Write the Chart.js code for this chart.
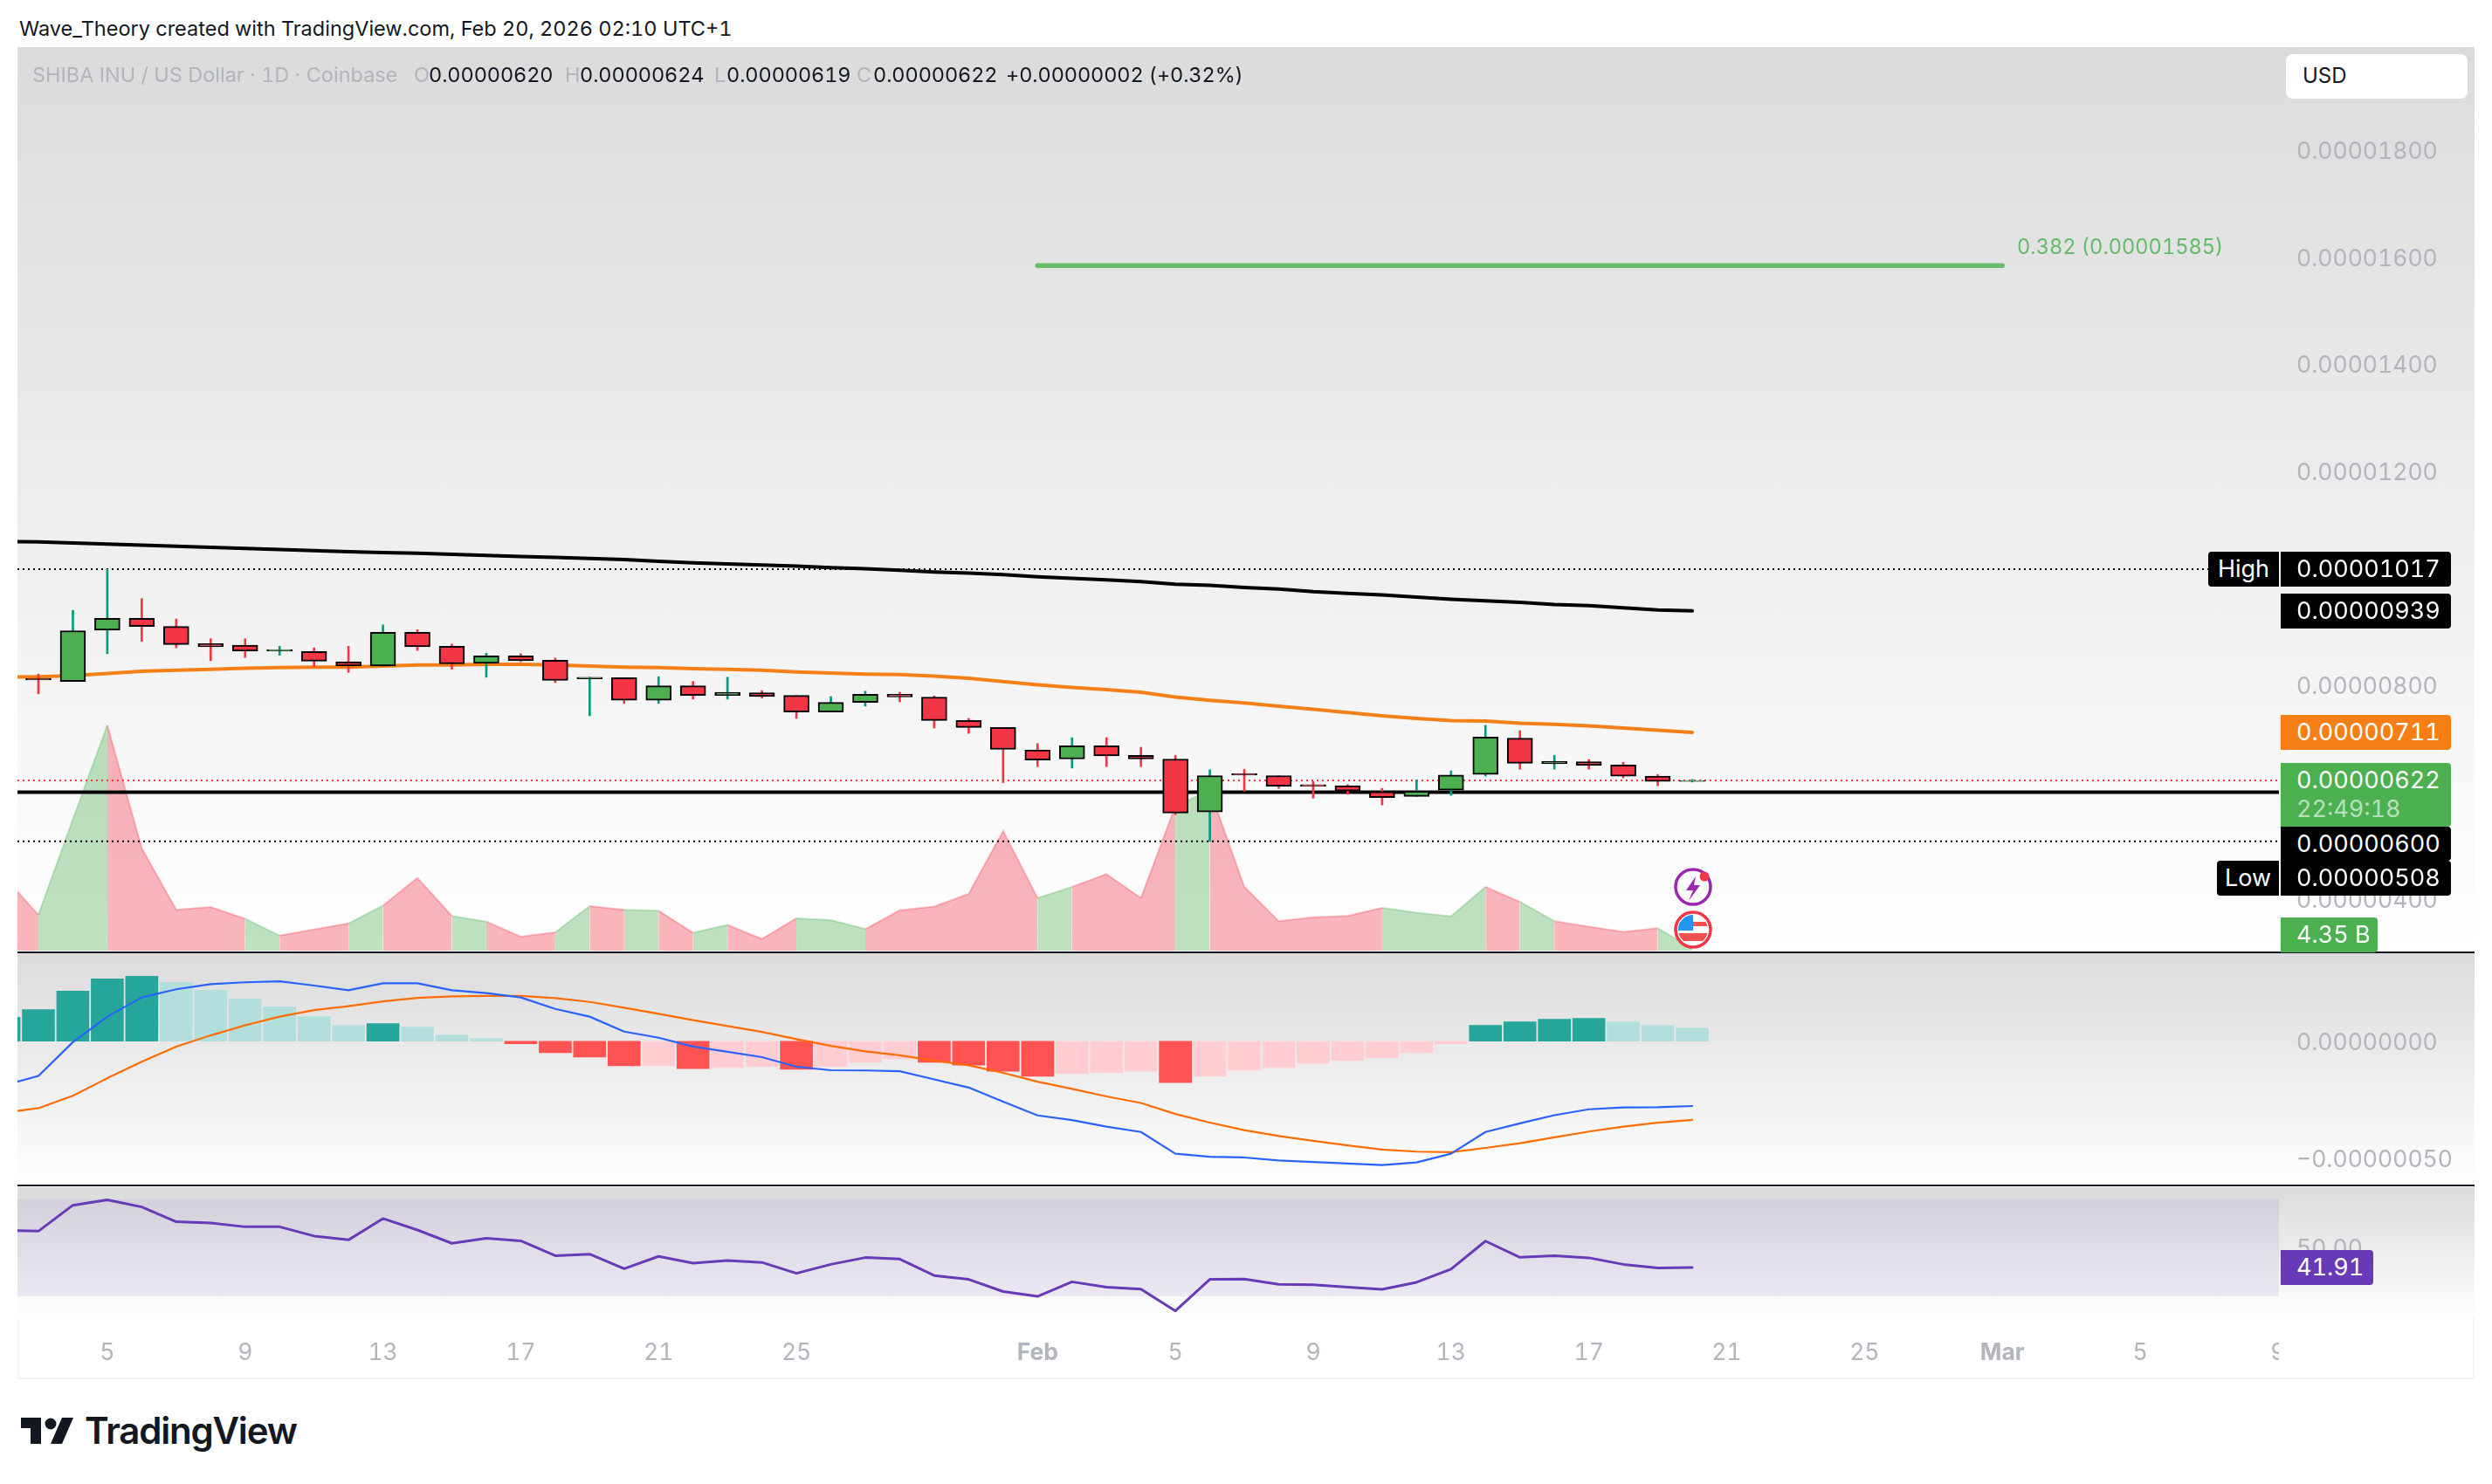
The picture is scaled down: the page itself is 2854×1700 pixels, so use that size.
<!DOCTYPE html>
<html lang="en">
<head>
  <meta charset="UTF-8">
  <title>SHIBA INU / US Dollar</title>
  <script src="https://cdn.jsdelivr.net/npm/chart.js"></script>
  <style>
    html, body { margin: 0; padding: 0; background: #fff; }
    body { position: relative; width: 2854px; height: 1700px; overflow: hidden; font-family: Inter, 'Noto Sans', sans-serif; font-feature-settings: 'tnum' 1; color: #131722; }
    .abs { position: absolute; white-space: nowrap; }
    canvas { position: absolute; }
    .pane { position: absolute; left: 20px; width: 2814px; background: linear-gradient(#dbdbdb, #fff); }
    .sep { position: absolute; left: 20px; width: 2814px; height: 2px; background: #131722; }
    .head { font-size: 23.5px; line-height: 30px; top: 71px; letter-spacing: -0.1px; }
    .pale { color: #b2b5be; letter-spacing: 0; }
    .tag { position: absolute; left: 2612px; width: 195px; height: 40px; line-height: 40px; padding-left: 18px; box-sizing: border-box; color: #fff; background: #000; font-size: 27px; border-radius: 0 4px 4px 0; white-space: nowrap; }
    .side { position: absolute; height: 40px; line-height: 40px; color: #fff; background: #000; font-size: 27px; border-radius: 4px 0 0 4px; text-align: center; }
  </style>
</head>
<body>
  <div class="abs" style="left:22px;top:18px;font-size:23.5px;line-height:30px;">Wave_Theory created with TradingView.com, Feb 20, 2026 02:10 UTC+1</div>

  <div class="pane" style="top:54px;height:1037px;"></div>
  <div class="pane" style="top:1092px;height:266px;"></div>
  <div class="pane" style="top:1360px;height:150px;"></div>
  <div class="abs" style="left:20px;top:1578px;width:2814px;height:2px;background:#f2f2f2;"></div>
  <div class="abs" style="left:20px;top:1510px;width:2px;height:70px;background:#f5f5f5;"></div>
  <div class="abs" style="left:2832px;top:1510px;width:2px;height:70px;background:#f5f5f5;"></div>

  <canvas id="priceChart" width="2814" height="1037" style="left:20px;top:54px;"></canvas>
  <canvas id="macdChart" width="2814" height="266" style="left:20px;top:1092px;"></canvas>
  <canvas id="rsiChart" width="2814" height="220" style="left:20px;top:1360px;"></canvas>

  <div class="sep" style="top:1090px;"></div>
  <div class="sep" style="top:1357px;"></div>
  <!-- the last time label is cut by the price scale -->
  <div class="abs" style="left:2610px;top:1525px;width:30px;height:45px;background:#fff;"></div>

  <div class="abs head pale" style="left:37px;">SHIBA INU / US Dollar · 1D · Coinbase</div>
  <div class="abs head pale" style="left:474px;">O</div>
  <div class="abs head" style="left:491px;">0.00000620</div>
  <div class="abs head pale" style="left:647px;">H</div>
  <div class="abs head" style="left:664px;">0.00000624</div>
  <div class="abs head pale" style="left:818px;">L</div>
  <div class="abs head" style="left:832px;">0.00000619</div>
  <div class="abs head pale" style="left:981px;">C</div>
  <div class="abs head" style="left:1000px;">0.00000622</div>
  <div class="abs head" style="left:1152px;">+0.00000002 (+0.32%)</div>

  <div class="abs" style="left:2618px;top:62px;width:208px;height:51px;background:#fff;border-radius:8px;line-height:50px;font-size:24px;"><span style="margin-left:19px;">USD</span></div>
  <div class="abs" style="left:2310px;top:268px;font-size:23.6px;line-height:30px;color:#66bb6a;">0.382 (0.00001585)</div>

  <div class="side" style="left:2529px;width:81px;top:632px;">High</div>
  <div class="tag" style="top:632px;">0.00001017</div>
  <div class="tag" style="top:680px;">0.00000939</div>
  <div class="tag" style="top:819px;background:#f57f17;">0.00000711</div>
  <div class="tag" style="top:874px;height:73px;background:#4caf50;line-height:33px;padding-top:3px;">0.00000622<br><span style="opacity:.6;">22:49:18</span></div>
  <div class="tag" style="top:947px;height:39px;">0.00000600</div>
  <div class="side" style="left:2539px;width:71px;top:986px;">Low</div>
  <div class="tag" style="top:986px;">0.00000508</div>
  <div class="tag" style="top:1051px;width:111px;background:#4caf50;">4.35 B</div>
  <div class="tag" style="top:1432px;width:106px;background:#673ab7;">41.91</div>

  <svg class="abs" style="left:1914px;top:990px;" width="52" height="100" viewBox="0 0 52 100">
    <circle cx="25" cy="26" r="20" fill="none" stroke="#9c27b0" stroke-width="3.5"/>
    <path d="M28 14 L17 30 L25 30 L20 42 L33 24 L26 24 Z" fill="#9c27b0"/>
    <circle cx="38" cy="14" r="5.5" fill="#f23645"/>
    <clipPath id="flagClip"><circle cx="25" cy="75" r="17"/></clipPath>
    <g clip-path="url(#flagClip)">
      <rect x="5" y="55" width="40" height="40" fill="#fff"/>
      <rect x="5" y="66" width="40" height="5" fill="#ef5350"/>
      <rect x="5" y="79" width="40" height="9" fill="#ef5350"/>
      <rect x="5" y="55" width="20" height="21" fill="#2196f3"/>
    </g>
    <circle cx="25" cy="75" r="20" fill="none" stroke="#f23645" stroke-width="3.5"/>
  </svg>

  <svg class="abs" style="left:24px;top:1624px;" width="60" height="30" viewBox="0 0 60 30">
    <path d="M0 0H23V30H11V12H0Z M47 0H60L47 30H34Z" fill="#131722"/>
    <circle cx="34" cy="7" r="6.5" fill="#131722"/>
  </svg>
  <div class="abs" style="left:97px;top:1609px;font-size:42px;line-height:60px;font-weight:600;letter-spacing:-1.2px;color:#131722;">TradingView</div>

  <script>
    // every day on the chart, the first one sits just left of the visible area
    const days = ["Jan 2","Jan 3","Jan 4","Jan 5","Jan 6","Jan 7","Jan 8","Jan 9","Jan 10","Jan 11","Jan 12","Jan 13","Jan 14","Jan 15","Jan 16","Jan 17","Jan 18","Jan 19","Jan 20","Jan 21","Jan 22","Jan 23","Jan 24","Jan 25","Jan 26","Jan 27","Jan 28","Jan 29","Jan 30","Jan 31","Feb 1","Feb 2","Feb 3","Feb 4","Feb 5","Feb 6","Feb 7","Feb 8","Feb 9","Feb 10","Feb 11","Feb 12","Feb 13","Feb 14","Feb 15","Feb 16","Feb 17","Feb 18","Feb 19","Feb 20"];

    // prices in units of 0.00000001
    const opens = [null,813,807,903,925,910,878,875,864,863,844,836,899,873,841,855,847,812,814,772,799,781,786,781,750,768,783,778,734,721,679,662,687,669,662,563,635,631,614,612,601,592,604,633,701,653,657,651,630,620];
    const highs = [null,821,940,1017,962,924,887,887,873,870,873,913,904,877,860,859,851,815,814,816,807,815,790,781,779,789,787,780,738,721,691,702,702,684,669,642,643,631,620,614,607,623,640,725,715,669,661,656,633,624];
    const lows = [null,784,807,859,882,870,846,852,856,835,824,836,865,830,815,844,805,743,766,766,774,774,776,738,750,761,769,720,710,618,648,645,648,648,558,508,602,607,589,596,576,592,594,630,643,643,643,627,612,619];
    const closes = [null,810,902,925,910,876,872,864,867,845,836,899,872,840,855,846,809,815,772,799,781,787,779,750,768,783,778,734,721,680,660,687,668,662,561,631,632,611,611,602,590,602,632,703,654,658,650,630,620,622];

    const longAverage = [1069,1068,1066,1064,1062,1060,1058,1056,1054,1052,1050,1048,1047,1045,1043,1041,1039,1037,1035,1032,1029,1027,1025,1023,1020,1018,1015,1012,1010,1007,1003,1000,997,994,989,987,983,980,975,972,969,965,961,958,955,951,949,945,941,939];
    const midAverage = [815,816,818,822,826,828,830,832,833,834,834,836,838,838,839,839,838,836,834,833,831,830,828,825,823,821,820,817,813,807,801,796,792,787,778,772,767,761,755,749,743,738,734,733,729,727,724,720,716,712];

    // volume in billions
    const volumes = [158,76,280,480,218,87,93,68,32,45,58,96,155,74,62,30,39,95,87,85,38,55,25,69,65,46,86,94,121,255,112,136,163,112,308,342,136,63,71,74,91,81,73,136,104,63,51,40,48,4.35];

    // MACD in units of 0.00000001
    const macdHist = [10.2,13.5,21.4,26.7,27.8,25.2,21.8,18.0,14.7,10.5,6.8,7.5,6.0,2.6,1.1,-1.1,-4.9,-6.8,-10.5,-10.5,-11.7,-11.3,-10.9,-12.0,-10.9,-9.0,-7.5,-9.0,-10.2,-12.8,-15.0,-13.9,-13.5,-12.8,-17.7,-15.0,-12.4,-11.3,-9.4,-8.3,-7.1,-4.9,-1.1,6.8,8.3,9.4,9.8,8.3,6.8,5.6];
    const macdLine = [-18.9,-14.8,-0.4,10.5,18.7,22.2,24.4,25.2,25.6,23.8,21.8,24.8,24.8,21.8,20.6,18.7,13.8,10.5,4.1,1.5,-2.3,-4.5,-6.8,-10.9,-12.4,-12.5,-12.8,-16.3,-19.8,-25.8,-31.7,-33.7,-36.5,-38.8,-48.1,-49.4,-49.7,-51.0,-51.6,-52.3,-52.9,-51.8,-48.1,-38.8,-35.1,-31.6,-29.1,-28.3,-28.2,-27.7];
    const signalLine = [-30.6,-28.6,-23.3,-15.8,-8.8,-2.3,2.5,6.8,10.5,13.3,15.0,17.0,18.5,19.2,19.4,19.4,18.4,16.8,14.3,11.7,9.0,6.5,4.0,0.9,-2.0,-4.3,-6.0,-8.3,-10.3,-13.5,-17.3,-20.4,-23.6,-26.4,-31.1,-34.8,-38.0,-40.5,-42.6,-44.5,-46.3,-47.2,-47.4,-45.6,-43.6,-41.1,-38.6,-36.5,-34.8,-33.6];

    const rsiValues = [57.3,56.9,67.6,69.8,66.9,60.8,60.3,58.7,58.7,54.9,53.3,62.1,57.4,51.9,54.0,52.9,46.8,47.4,41.4,46.5,43.7,44.8,44.0,39.5,43.2,46.0,45.4,38.6,37.0,32.0,30.0,36.0,33.8,33.0,24.0,37.0,37.1,35.0,34.8,33.8,32.9,35.8,41.2,52.8,46.1,46.8,45.9,43.2,41.7,41.91];

    // horizontal levels, prices in units of 0.00000001
    const highLevel = 1017;
    const lowLevel = 508;
    const supportLevel = 600;
    const lastPrice = 622;
    const fibPrice = 1585;
    const fibFrom = 30;
    const fibTo = 58;

    const priceTicks = [400,600,800,1000,1200,1400,1600,1800];
    const macdTicks = [0,-50];
    const rsiTicks = [50];
    const rsiBand = [70,30];
    const timeTickIndex = [3,7,11,15,19,23,30,34,38,42,46,50,54,58,62,66];
    const timeTickLabels = ["5","9","13","17","21","25","Feb","5","9","13","17","21","25","Mar","5","9"];

    // visible range of the shared time axis, as day indexes
    const xMin = 0.392;
    const xMax = 66.03;
    const axisWidth = 224;
    const tickFont = { family: "Inter, 'Noto Sans', sans-serif", size: 26.5 };

    const GREEN = '#4caf50';
    const RED = '#f23645';

    function points(values) {
      return values.map((v, i) => ({ x: i, y: v }));
    }

    function hLine(value, color, width, dash, order, offset) {
      return {
        type: 'line', yAxisID: 'y', order: order,
        data: [{ x: xMin, y: value }, { x: xMax, y: value }],
        borderColor: color, borderWidth: width,
        borderDash: dash || [], borderDashOffset: offset || 0,
        pointRadius: 0, fill: false
      };
    }

    function line(values, color, width, order) {
      return {
        type: 'line', yAxisID: 'y', order: order, data: points(values),
        borderColor: color, borderWidth: width, pointRadius: 0, fill: false,
        borderCapStyle: 'round', borderJoinStyle: 'round'
      };
    }

    function xAxis() {
      return { type: 'linear', min: xMin, max: xMax, display: false, offset: false, grid: { display: false } };
    }

    function yAxis(min, max, ticks, format) {
      return {
        position: 'right', min: min, max: max,
        grid: { display: false, drawTicks: false }, border: { display: false },
        // keep the pane height exact, no room for half labels
        afterFit: s => { s.width = axisWidth; s.paddingTop = 0; s.paddingBottom = 0; },
        afterBuildTicks: s => { s.ticks = ticks.map(v => ({ value: v })); },
        ticks: {
          color: '#b2b5be', font: tickFont, padding: 20, labelOffset: 2, autoSkip: false,
          callback: format
        }
      };
    }

    function priceLabel(v) {
      return (v / 1e8).toFixed(8);
    }

    function macdLabel(v) {
      return (v < 0 ? '−' : '') + (Math.abs(v) / 1e8).toFixed(8);
    }

    const isUp = days.map((d, i) => closes[i] !== null && closes[i] >= opens[i]);

    const baseOptions = {
      responsive: false, devicePixelRatio: 1, animation: false,
      layout: { padding: 0 },
      plugins: { legend: { display: false }, tooltip: { enabled: false } }
    };

    // price pane with the volume area behind the candles
    new Chart(document.getElementById('priceChart'), {
      type: 'bar',
      data: {
        datasets: [
          {
            type: 'line', yAxisID: 'yVolume', order: 20, data: points(volumes),
            pointRadius: 0, borderWidth: 2, fill: { value: 0 },
            segment: {
              backgroundColor: c => isUp[c.p1DataIndex] ? 'rgba(76,175,80,0.36)' : 'rgba(242,54,69,0.36)',
              borderColor: c => isUp[c.p1DataIndex] ? 'rgba(76,175,80,0.3)' : 'rgba(242,54,69,0.3)'
            }
          },
          hLine(lowLevel, '#000', 2, [2, 4], 15),
          hLine(highLevel, '#000', 2, [2, 4], 15),
          hLine(lastPrice, RED, 2, [2, 4], 14),
          hLine(supportLevel, '#000', 4, null, 12),
          line(longAverage, '#000', 4, 11),
          line(midAverage, '#f57f17', 4, 10),
          {
            type: 'line', yAxisID: 'y', order: 9,
            data: [{ x: fibFrom, y: fibPrice }, { x: fibTo, y: fibPrice }],
            borderColor: '#66bb6a', borderWidth: 5.5, pointRadius: 0, fill: false, borderCapStyle: 'round'
          },
          {
            label: 'wicks', yAxisID: 'y', order: 3, grouped: false, barThickness: 2, borderWidth: 0,
            data: days.map((d, i) => ({ x: i, y: lows[i] === null ? null : [lows[i], highs[i]] })),
            backgroundColor: isUp.map(up => up ? '#089981' : RED)
          },
          {
            label: 'bodies', yAxisID: 'y', order: 2, grouped: false, barThickness: 29,
            borderWidth: 2, borderColor: '#000', borderSkipped: false,
            data: days.map((d, i) => ({ x: i, y: opens[i] === null ? null : [opens[i], closes[i]] })),
            backgroundColor: isUp.map(up => up ? GREEN : RED)
          }
        ]
      },
      options: {
        ...baseOptions,
        scales: {
          x: xAxis(),
          y: yAxis(300.4, 1993.5, priceTicks, priceLabel),
          yVolume: { display: false, min: -3.7, max: 1925 }
        }
      }
    });

    // MACD pane
    new Chart(document.getElementById('macdChart'), {
      type: 'bar',
      data: {
        datasets: [
          {
            yAxisID: 'y', order: 3, barThickness: 37, grouped: false,
            data: points(macdHist),
            backgroundColor: macdHist.map((v, i) => {
              const rising = i === 0 || v >= macdHist[i - 1];
              if (v >= 0) return rising ? '#26a69a' : '#b2dfdb';
              return rising ? '#ffcdd2' : '#ff5252';
            })
          },
          line(signalLine, '#ff6d00', 2.2, 2),
          line(macdLine, '#2962ff', 2.2, 1)
        ]
      },
      options: {
        ...baseOptions,
        scales: {
          x: xAxis(),
          y: yAxis(-61.65, 37.6, macdTicks, macdLabel)
        }
      }
    });

    // RSI pane, it also carries the time axis
    const rsiXAxis = xAxis();
    rsiXAxis.display = true;
    rsiXAxis.border = { display: false };
    rsiXAxis.grid = { display: false, drawTicks: false };
    rsiXAxis.afterFit = s => { s.height = 70; };
    rsiXAxis.afterBuildTicks = s => { s.ticks = timeTickIndex.map(v => ({ value: v })); };
    rsiXAxis.ticks = {
      color: '#b2b5be', padding: 24, autoSkip: false, maxRotation: 0, includeBounds: false,
      font: c => ({ ...tickFont, weight: isNaN(timeTickLabels[c.index]) ? 'bold' : 'normal' }),
      callback: (v, i) => timeTickLabels[i]
    };

    new Chart(document.getElementById('rsiChart'), {
      type: 'line',
      data: {
        datasets: [
          {
            yAxisID: 'y', order: 5, pointRadius: 0, borderWidth: 0,
            data: [{ x: xMin, y: rsiBand[0] }, { x: xMax, y: rsiBand[0] }],
            fill: { target: { value: rsiBand[1] } }, backgroundColor: 'rgba(126,87,194,0.1)'
          },
          line(rsiValues, '#673ab7', 3, 1)
        ]
      },
      options: {
        ...baseOptions,
        scales: {
          x: rsiXAxis,
          y: yAxis(21, 75.05, rsiTicks, v => v.toFixed(2))
        }
      }
    });
  </script>
</body>
</html>
